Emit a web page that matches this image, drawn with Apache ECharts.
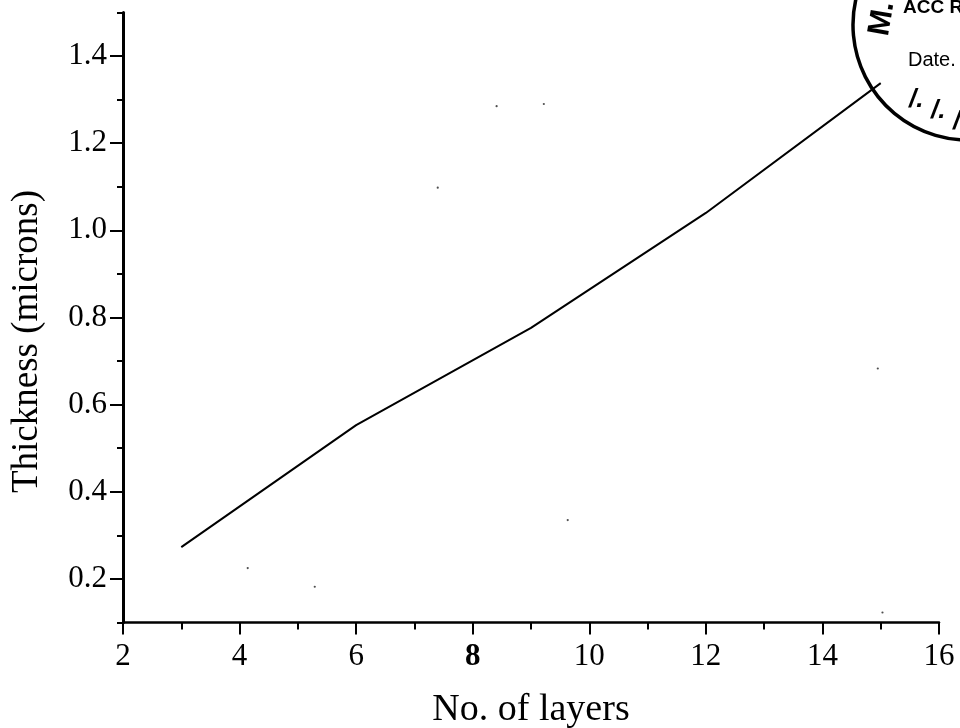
<!DOCTYPE html>
<html><head><meta charset="utf-8">
<style>html,body{margin:0;padding:0;background:#fff}#c{width:960px;height:728px}</style>
<script src="https://cdn.jsdelivr.net/npm/echarts@6/dist/echarts.min.js"></script>
</head><body><div id="c"></div>
<script>
const layers = [3, 6, 9, 12, 15];
const thickness = [0.273, 0.553, 0.776, 1.04, 1.338];
const yMajor = [0.2, 0.4, 0.6, 0.8, 1.0, 1.2, 1.4];
const yMinor = [0.1, 0.3, 0.5, 0.7, 0.9, 1.1, 1.3, 1.5];
const specks = [[8.41,1.285],[9.22,1.29],[7.4,1.098],[4.14,0.225],[5.29,0.182],[9.63,0.335],[14.95,0.683],[15.03,0.123]];
const serif = '"Liberation Serif"';
const sans = '"Liberation Sans"';
const black = '#000';
const chart = echarts.init(document.getElementById('c'), null, {renderer: 'canvas'});
chart.setOption({
  animation: false,
  backgroundColor: '#fff',
  grid: {left: 123, right: 21, top: 12.5, bottom: 105.5, containLabel: false, outerBoundsMode: 'none'},
  xAxis: {
    type: 'value', min: 2, max: 16, interval: 2,
    name: 'No. of layers', nameLocation: 'middle', nameGap: 69, nameMoveOverlap: false,
    nameTextStyle: {fontFamily: serif, fontSize: 38, color: black},
    axisLine: {show: true, onZero: false, lineStyle: {color: black, width: 2.5}},
    axisTick: {show: true, length: 12, lineStyle: {color: black, width: 2}},
    minorTick: {show: true, splitNumber: 2, length: 7, lineStyle: {color: black, width: 2}},
    splitLine: {show: false}, minorSplitLine: {show: false},
    axisLabel: {
      margin: 19, fontFamily: serif, fontSize: 31, color: black, showMinLabel: true, showMaxLabel: true,
      formatter: v => v === 8 ? '{b|8}' : String(v),
      rich: {b: {fontFamily: serif, fontSize: 31, fontWeight: 'bold', color: black}}
    }
  },
  yAxis: [{
    type: 'value', min: 0.1, max: 1.5,
    name: 'Thickness (microns)', nameLocation: 'middle', nameGap: 77, nameMoveOverlap: false,
    nameTextStyle: {fontFamily: serif, fontSize: 37, color: black, padding: [0, 48, 0, 0]},
    axisLine: {show: true, onZero: false, lineStyle: {color: black, width: 3}},
    axisTick: {show: true, length: 13, customValues: yMajor, lineStyle: {color: black, width: 2}},
    splitLine: {show: false},
    axisLabel: {
      margin: 16, fontFamily: serif, fontSize: 31, color: black, padding: [2, 0, 0, 0],
      customValues: yMajor, formatter: v => v.toFixed(1)
    }
  }, {
    type: 'value', min: 0.1, max: 1.5, position: 'left',
    axisLine: {show: false},
    axisTick: {show: true, length: 6, customValues: yMinor, lineStyle: {color: black, width: 2}},
    axisLabel: {show: false}, splitLine: {show: false}
  }],
  series: [{
    type: 'line', data: layers.map((x, i) => [x, thickness[i]]),
    showSymbol: false, smooth: false, clip: false,
    lineStyle: {color: black, width: 2}
  }, {
    type: 'scatter', data: specks, symbolSize: 2.2, itemStyle: {color: '#222'}, silent: true
  }],
  graphic: [
    {type: 'arc', shape: {cx: 968, cy: 25, r: 115, startAngle: 1.48, endAngle: 3.55, clockwise: true},
     style: {stroke: black, lineWidth: 3.5, fill: 'none'}},
    {type: 'text', x: 903, y: -2, style: {text: 'ACC R', fontFamily: sans, fontWeight: 'bold', fontSize: 19, fill: black}},
    {type: 'text', x: 908, y: 50, style: {text: 'Date.', fontFamily: sans, fontSize: 20, fill: black}},
    {type: 'text', x: 864, y: 33, rotation: 1.4, style: {text: 'M.', fontFamily: sans, fontWeight: 'bold', fontSize: 31, fill: black}},
    {type: 'text', x: 909, y: 87, style: {text: '/.', fontFamily: sans, fontWeight: 'bold', fontStyle: 'italic', fontSize: 26, fill: black}},
    {type: 'text', x: 931, y: 98, style: {text: '/.', fontFamily: sans, fontWeight: 'bold', fontStyle: 'italic', fontSize: 26, fill: black}},
    {type: 'text', x: 953, y: 109, style: {text: '/', fontFamily: sans, fontWeight: 'bold', fontStyle: 'italic', fontSize: 26, fill: black}}
  ]
});
</script></body></html>
